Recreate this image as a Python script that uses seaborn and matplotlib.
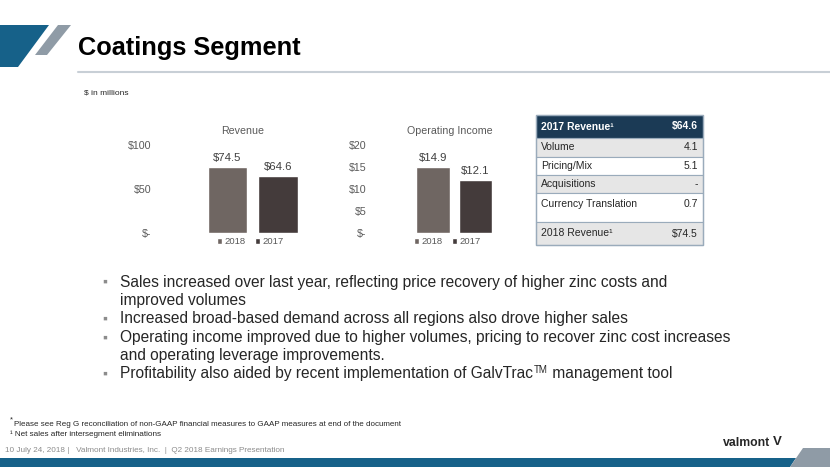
"""Coatings Segment slide: revenue / operating income bars plus revenue bridge table."""

import matplotlib

matplotlib.use("Agg")
import matplotlib.pyplot as plt
import pandas as pd
import seaborn as sns
from matplotlib.patches import Polygon, Rectangle

# --- data -------------------------------------------------------------------
years = ["2018", "2017"]
revenue = [74.5, 64.6]
op_income = [14.9, 12.1]
rev_ticks = [0, 50, 100]
rev_tick_labels = ["$-", "$50", "$100"]
oi_ticks = [0, 5, 10, 15, 20]
oi_tick_labels = ["$-", "$5", "$10", "$15", "$20"]

bridge_labels = ["Volume", "Pricing/Mix", "Acquisitions", "Currency Translation"]
bridge_values = ["4.1", "5.1", "-", "0.7"]
rev_start = ("2017 Revenue\u00b9", "$64.6")
rev_end = ("2018 Revenue\u00b9", "$74.5")

bullets = [
    ["Sales increased over last year, reflecting price recovery of higher zinc costs and",
     "improved volumes"],
    ["Increased broad-based demand across all regions also drove higher sales"],
    ["Operating income improved due to higher volumes, pricing to recover zinc cost increases",
     "and operating leverage improvements."],
    ["Profitability also aided by recent implementation of GalvTrac", "TM", " management tool"],
]

# --- style ------------------------------------------------------------------
sns.set_style("white")
plt.rcParams["font.family"] = ["Liberation Sans", "DejaVu Sans"]

W, H = 830, 467
BLUE = "#166189"
GREY_SHAPE = "#8f9ba6"
NAVY = "#1b3a55"
bar_colors = {"2018": "#716560", "2017": "#45393a"}
TXT = "#595959"
BODY = "#262626"

fig = plt.figure(figsize=(W / 100, H / 100), dpi=100)
renderer = fig.canvas.get_renderer()

# overlay in pixel coordinates for slide decoration and table
ov = fig.add_axes([0, 0, 1, 1], zorder=0)
ov.set_xlim(0, W)
ov.set_ylim(H, 0)
ov.axis("off")

ov.add_patch(Polygon([(0, 25), (49, 25), (18, 67), (0, 67)], color=BLUE, lw=0))
ov.add_patch(Polygon([(58, 25), (71, 25), (47, 55), (35, 55)], color=GREY_SHAPE, lw=0))
ov.text(78, 48, "Coatings Segment", fontsize=18.3, fontweight="bold", va="center", color="black")
ov.plot([78, W], [72, 72], color="#c8cfd6", lw=1.5)
ov.text(84, 93, "$ in millions", fontsize=6, va="center", color=BODY)


def bar_panel(left, right, values, ticks, tick_labels, title, title_x, legend_x):
    ax = fig.add_axes([left / W, 1 - 233 / H, (right - left) / W, 88 / H], zorder=2)
    df = pd.DataFrame({"year": years, "value": values})
    sns.barplot(data=df, x="year", y="value", hue="year", palette=bar_colors,
                dodge=False, width=0.78, ax=ax, legend=True)
    ax.set_ylim(ticks[0], ticks[-1])
    ax.set_yticks(ticks, tick_labels)
    ax.set_xticks([])
    ax.set_xlabel("")
    ax.set_ylabel("")
    ax.patch.set_visible(False)
    sns.despine(ax=ax, left=True, bottom=True)
    ax.tick_params(axis="y", length=0, pad=10, labelsize=7.7, labelcolor=TXT)
    for cont in ax.containers:
        ax.bar_label(cont, fmt="${:.1f}", padding=3, fontsize=8.2, color="#404040")
    sns.move_legend(ax, "center", bbox_to_anchor=(legend_x / W, 1 - 242 / H),
                    bbox_transform=fig.transFigure, ncol=2, frameon=False, title=None,
                    fontsize=6.8, handlelength=0.6, handleheight=0.6,
                    handletextpad=0.2, columnspacing=1.0, labelcolor=TXT)
    ov.text(title_x, 131, title, fontsize=7.7, ha="center", va="center", color=TXT)
    return ax


ax_rev = bar_panel(165, 340, revenue, rev_ticks, rev_tick_labels, "Revenue", 243, 250)
ax_rev.set_xlim(-1.238, 2.228)
ax_oi = bar_panel(380, 530, op_income, oi_ticks, oi_tick_labels, "Operating Income", 450, 447)
ax_oi.set_xlim(-1.247, 2.282)

# --- revenue bridge table ---------------------------------------------------
edges = [115, 138, 157, 175, 193, 222, 245]
fills = [NAVY, "#e6e6e6", "white", "#e6e6e6", "white", "#e6e6e6"]
rows = [rev_start] + list(zip(bridge_labels, bridge_values)) + [rev_end]
tx0, tx1 = 536, 703
for i, (lab, val) in enumerate(rows):
    y0, y1 = edges[i], edges[i + 1]
    ov.add_patch(Rectangle((tx0, y0), tx1 - tx0, y1 - y0, facecolor=fills[i],
                           edgecolor="#9aabbb", lw=0.8))
    if i == 0:
        kw = dict(color="white", fontweight="bold")
        yc = (y0 + y1) / 2
    elif lab.startswith("Currency"):
        kw = dict(color=BODY)
        yc = y0 + 11
    else:
        kw = dict(color=BODY)
        yc = (y0 + y1) / 2
    ov.text(tx0 + 5, yc, lab, fontsize=7.5, va="center", **kw)
    ov.text(tx1 - 5, yc, val, fontsize=7.5, va="center", ha="right", **kw)
ov.add_patch(Rectangle((tx0, edges[0]), tx1 - tx0, edges[-1] - edges[0], fill=False,
                       edgecolor="#9aabbb", lw=1.0))

# --- bullets ----------------------------------------------------------------
FS = 11.2
y = 282
for item in bullets:
    ov.text(102, y, "\u25aa", fontsize=10, va="center", color="#8c8c8c")
    if len(item) == 3:
        # last bullet carries a superscript TM
        t = ov.text(120, y, item[0], fontsize=FS, va="center", color=BODY)
        bb = t.get_window_extent(renderer)
        tm = ov.annotate(item[1], xy=(bb.x1, bb.y1), xycoords="figure pixels",
                         fontsize=7, va="top", ha="left", color=BODY,
                         xytext=(0.5, 1), textcoords="offset points")
        bb2 = tm.get_window_extent(renderer)
        ov.annotate(item[2], xy=(bb2.x1, (bb.y0 + bb.y1) / 2), xycoords="figure pixels",
                    fontsize=FS, va="center", ha="left", color=BODY)
        y += 18.4
        continue
    for line in item:
        ov.text(120, y, line, fontsize=FS, va="center", color=BODY)
        y += 18.4

# --- footnotes and footer ---------------------------------------------------
ov.text(10, 420, "*", fontsize=5.5, va="center", color=BODY)
ov.text(14, 425, "Please see Reg G reconciliation of non-GAAP financial measures to GAAP "
        "measures at end of the document", fontsize=5.75, va="center", color=BODY)
ov.text(10, 434, "\u00b9 Net sales after intersegment eliminations", fontsize=5.9,
        va="center", color=BODY)
ov.text(5, 451, "10 July 24, 2018 |   Valmont Industries, Inc.  |  Q2 2018 Earnings Presentation",
        fontsize=5.9, va="center", color="#8c8c8c")
ov.text(723, 443, "valmont", fontsize=8.8, fontweight="bold", va="center", color=BODY)
ov.text(773, 442, "V", fontsize=9.5, fontweight="bold", va="center", color=BODY)
ov.add_patch(Polygon([(0, 458), (796, 458), (790, 467), (0, 467)], color=BLUE, lw=0))
ov.add_patch(Polygon([(803, 448), (830, 448), (830, 467), (790, 467)], color=GREY_SHAPE, lw=0))

fig.savefig("out.png", dpi=100)
plt.close(fig)
